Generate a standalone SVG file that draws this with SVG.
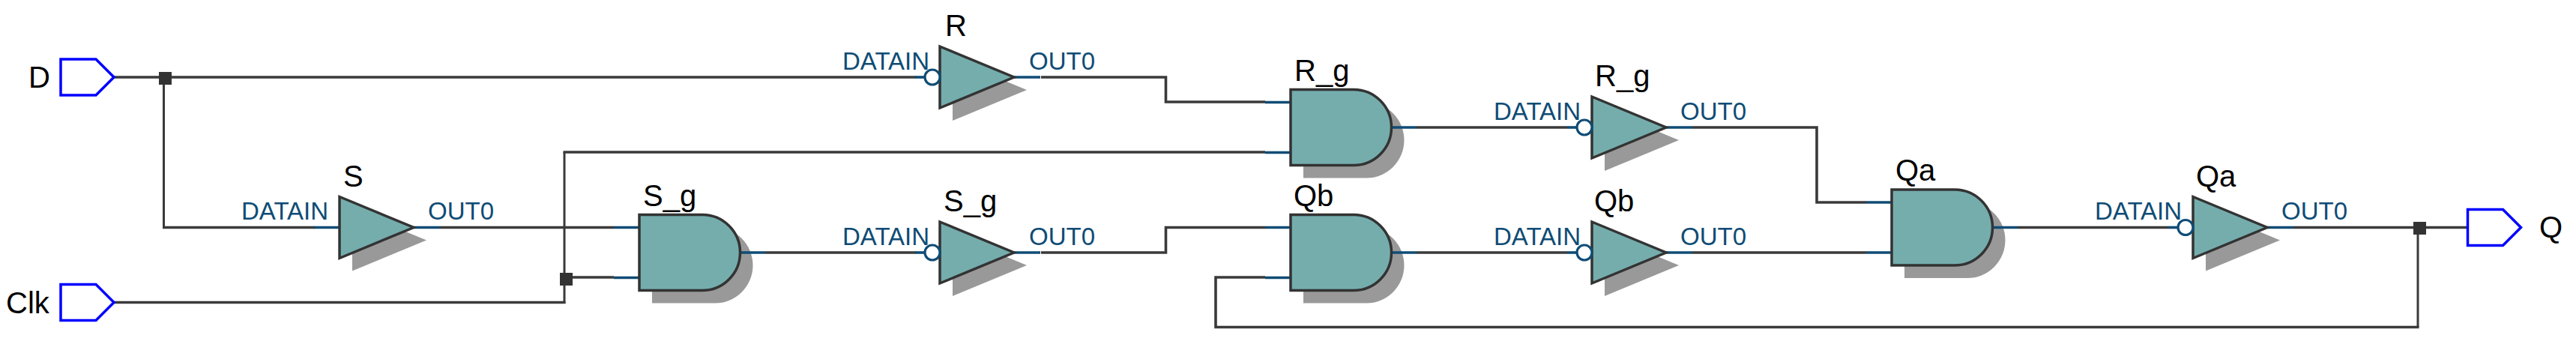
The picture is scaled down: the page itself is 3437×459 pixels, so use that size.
<svg xmlns="http://www.w3.org/2000/svg" width="3437" height="459" viewBox="0 0 3437 459">
<style>
text{font-family:"Liberation Sans",Arial,sans-serif}
.n{font-size:40px;fill:#000}
.p{font-size:33px;fill:#0f4c75}
.w{fill:none;stroke:#3a3a3a;stroke-width:3.6}
.v{fill:none;stroke:#3a3a3a;stroke-width:3}
.s{fill:none;stroke:#0f4c75;stroke-width:3.6}
.sh{fill:#999}
.b{fill:#75adad;stroke:#333;stroke-width:3.5;stroke-linejoin:miter}
.port{fill:#fff;stroke:#0000ff;stroke-width:3.5}
.j{fill:#333}
.bub{fill:#fff;stroke:#0f4c75;stroke-width:3.2}
</style>
<defs>
<g id="tri">
<path class="sh" d="M17 -24L116 17L17 58Z"/>
<path class="s" d="M99 0H134"/>
<path class="b" d="M0 -41L99 0L0 41Z"/>
</g>
<g id="ptri">
<path class="s" d="M-34 0H0"/>
<use href="#tri"/>
</g>
<g id="itri">
<use href="#tri"/>
<path class="s" d="M-33 0H-20"/>
<circle class="bub" cx="-10" cy="0" r="10"/>
</g>
<g id="and">
<path class="sh" d="M17 17H101A50.500 50.500 0 0 1 101 118H17Z"/>
<path class="s" d="M-34 17H0M-34 84H0M135 50.500H168"/>
<path class="b" d="M0 0H84A50.500 50.500 0 0 1 84 101H0Z"/>
</g>
<path id="pin" class="port" d="M0 -24H47L71 0L47 24H0Z"/>
</defs>
<g id="connectors">
<path class="w" d="M152 103H1222"/>
<path class="v" d="M218.500 103V303.500"/>
<path class="w" d="M217 303.500H420"/>
<path class="w" d="M152 403.500H754.500"/>
<path class="v" d="M753 405V203"/>
<path class="w" d="M751.500 203H1688"/>
<path class="w" d="M753 370H819"/>
<path class="w" d="M587 303.500H819"/>
<path class="w" d="M1021 337H1222"/>
<path class="w" d="M1389 103H1555.500V136H1688"/>
<path class="w" d="M1389 337H1555.500V303.500H1688"/>
<path class="w" d="M1890 170H2091"/>
<path class="w" d="M1890 337H2091"/>
<path class="w" d="M2258 170H2424V270H2490"/>
<path class="w" d="M2258 337H2490"/>
<path class="w" d="M2692 303.500H2893"/>
<path class="w" d="M3060 303.500H3292"/>
<path class="v" d="M3226 303.500V436.500"/>
<path class="w" d="M3227.500 436.500H1622V370H1688"/>
</g>
<g id="D"><text class="n" x="38" y="117">D</text><use href="#pin" x="81" y="103"/></g>
<g id="Clk"><text class="n" x="8" y="418">Clk</text><use href="#pin" x="81" y="403.500"/></g>
<g id="Q"><use href="#pin" x="3292.500" y="303.500"/><text class="n" x="3388" y="317">Q</text></g>
<g id="J1"><rect class="j" x="212" y="96" width="17" height="17"/></g>
<g id="J2"><rect class="j" x="747" y="364" width="17" height="17"/></g>
<g id="J3"><rect class="j" x="3220" y="296" width="17" height="17"/></g>
<g id="buf-S"><use href="#ptri" x="453" y="303.500"/><text class="n" x="458" y="249">S</text><text class="p" x="322" y="293">DATAIN</text><text class="p" x="571" y="293">OUT0</text></g>
<g id="buf-R"><use href="#itri" x="1254" y="103"/><text class="n" x="1261" y="48">R</text><text class="p" x="1124" y="93">DATAIN</text><text class="p" x="1373" y="93">OUT0</text></g>
<g id="buf-S_g"><use href="#itri" x="1254" y="337"/><text class="n" x="1259" y="282">S_g</text><text class="p" x="1124" y="327">DATAIN</text><text class="p" x="1373" y="327">OUT0</text></g>
<g id="buf-R_g"><use href="#itri" x="2124" y="170"/><text class="n" x="2128" y="115">R_g</text><text class="p" x="1993" y="160">DATAIN</text><text class="p" x="2242" y="160">OUT0</text></g>
<g id="buf-Qb"><use href="#itri" x="2124" y="337"/><text class="n" x="2127" y="282">Qb</text><text class="p" x="1993" y="327">DATAIN</text><text class="p" x="2242" y="327">OUT0</text></g>
<g id="buf-Qa"><use href="#itri" x="2926" y="303.500"/><text class="n" x="2930" y="249">Qa</text><text class="p" x="2795" y="293">DATAIN</text><text class="p" x="3044" y="293">OUT0</text></g>
<g id="and-S_g"><use href="#and" x="853" y="286.500"/><text class="n" x="858" y="275">S_g</text></g>
<g id="and-R_g"><use href="#and" x="1722" y="119.500"/><text class="n" x="1727" y="108">R_g</text></g>
<g id="and-Qb"><use href="#and" x="1722" y="286.500"/><text class="n" x="1726" y="275">Qb</text></g>
<g id="and-Qa"><use href="#and" x="2524" y="253"/><text class="n" x="2529" y="241">Qa</text></g>
</svg>
